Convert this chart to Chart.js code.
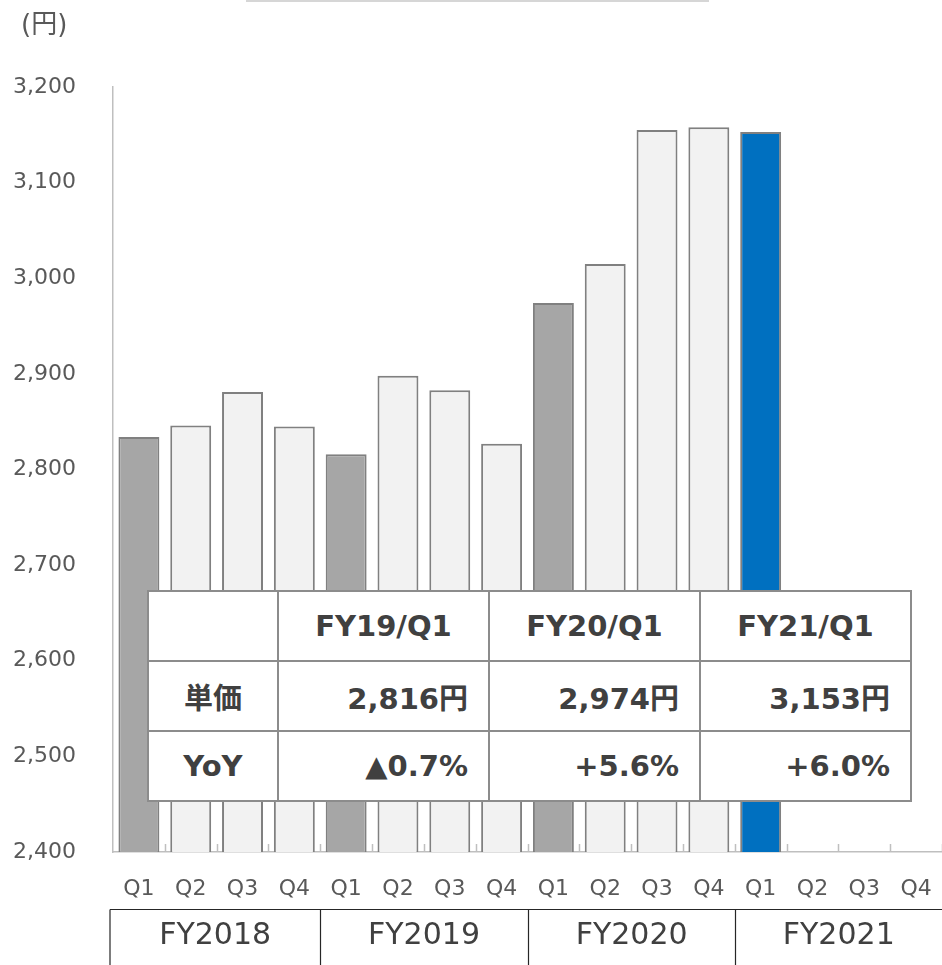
<!DOCTYPE html>
<html>
<head>
<meta charset="utf-8">
<script src="https://cdn.jsdelivr.net/npm/chart.js@4"></script>
<style>
  html, body { margin: 0; padding: 0; background: #fff; overflow: hidden; }
  #wrap { position: relative; width: 942px; height: 965px; font-family: "DejaVu Sans", "Noto Sans CJK JP", sans-serif; }
  #unit { position: absolute; left: 21px; top: 9px; font-size: 26px; line-height: 30px; color: #595959; }
  #topLine { position: absolute; left: 246px; top: 0; width: 463px; height: 2px; background: #d6d6d6; }
  #summary { position: absolute; left: 147px; top: 590px; width: 765px; height: 212px;
    border-collapse: collapse; background: #fff; color: #404040; font-weight: bold; font-size: 29px; }
  #summary td { border: 2px solid #8c8c8c; padding: 0 20px; height: 68px; white-space: nowrap; }
  #summary td.head { text-align: center; }
  #summary td.val { text-align: right; }
</style>
</head>
<body>
<div id="wrap">
  <canvas id="barChart" width="942" height="965"></canvas>
  <div id="topLine"></div>
  <div id="unit">(円)</div>
  <table id="summary"></table>
</div>
<script>
// 四半期ラベル
var quarters = ["Q1", "Q2", "Q3", "Q4", "Q1", "Q2", "Q3", "Q4",
                "Q1", "Q2", "Q3", "Q4", "Q1", "Q2", "Q3", "Q4"];
var fiscalYears = ["FY2018", "FY2019", "FY2020", "FY2021"];
// 単価 (円)
var unitPrice = [2834, 2846, 2881, 2845, 2816, 2898, 2883, 2827,
                 2974, 3015, 3155, 3158, 3153, null, null, null];
var yTicks = [2400, 2500, 2600, 2700, 2800, 2900, 3000, 3100, 3200];

// 表のデータ
var tableHeaders = ["", "FY19/Q1", "FY20/Q1", "FY21/Q1"];
var priceRow = ["単価", "2,816円", "2,974円", "3,153円"];
var yoyRow = ["YoY", "▲0.7%", "+5.6%", "+6.0%"];

var FONT = '"DejaVu Sans", "Noto Sans CJK JP", sans-serif';

// 色: Q1はグレー、最新はブルー
var lastIdx = 12;
var barColors = unitPrice.map(function (v, i) {
  if (i === lastIdx) return "#0070c0";
  return i % 4 === 0 ? "#a6a6a6" : "#f2f2f2";
});

// 表を作る
function buildTable() {
  var rows = [tableHeaders, priceRow, yoyRow];
  var html = "";
  rows.forEach(function (row, r) {
    html += "<tr>";
    row.forEach(function (cell, c) {
      var cls = (r === 0 || c === 0) ? "head" : "val";
      var w = c === 0 ? ' style="width:88px"' : "";
      html += '<td class="' + cls + '"' + w + ">" + cell + "</td>";
    });
    html += "</tr>";
  });
  document.getElementById("summary").innerHTML = html;
}
buildTable();

// X軸の目盛り線と年度の行
var extrasPlugin = {
  id: "extras",
  afterDraw: function (chart) {
    var ctx = chart.ctx;
    var x = chart.scales.x;
    var y = chart.scales.y;
    var half = (x.getPixelForValue(1) - x.getPixelForValue(0)) / 2;
    var base = y.bottom;

    // 目盛り（内向き）
    ctx.save();
    ctx.strokeStyle = "#bfbfbf";
    ctx.lineWidth = 1.5;
    for (var i = 1; i <= quarters.length; i++) {
      var px = Math.round(x.getPixelForValue(i) - half) + 0.5;
      ctx.beginPath();
      ctx.moveTo(px, base);
      ctx.lineTo(px, base - 8);
      ctx.stroke();
    }

    // 年度の行
    var rowTop = 909.5;
    ctx.strokeStyle = "#262626";
    ctx.lineWidth = 1.2;
    ctx.beginPath();
    ctx.moveTo(x.left - 3, rowTop);
    ctx.lineTo(chart.width, rowTop);
    ctx.stroke();
    ctx.fillStyle = "#404040";
    ctx.font = "30px " + FONT;
    ctx.textAlign = "center";
    ctx.textBaseline = "middle";
    fiscalYears.forEach(function (fy, g) {
      var left = g === 0 ? x.left - 3 : Math.round(x.getPixelForValue(g * 4) - half) + 0.5;
      var right = g === fiscalYears.length - 1 ? chart.width : x.getPixelForValue(g * 4 + 4) - half;
      ctx.beginPath();
      ctx.moveTo(left, rowTop);
      ctx.lineTo(left, chart.height);
      ctx.stroke();
      ctx.fillText(fy, (left + right) / 2, 936);
    });
    ctx.restore();
  },
};

var ctx1 = document.getElementById("barChart").getContext("2d");
var myChart = new Chart(ctx1, {
  type: "bar",
  data: {
    labels: quarters,
    datasets: [
      {
        label: "単価",
        data: unitPrice,
        backgroundColor: barColors,
        borderColor: "#808080",
        borderWidth: 2,
        barPercentage: 0.79,
        categoryPercentage: 1,
      },
    ],
  },
  options: {
    responsive: false,
    animation: false,
    layout: { padding: { top: 87, left: 0, right: 0, bottom: 0 } },
    plugins: {
      legend: { display: false },
      tooltip: { enabled: false },
    },
    scales: {
      x: {
        // tickLengthでラベルを下げる (paddingだと右側に余白が出る)
        grid: { display: false, drawTicks: true, tickLength: 24 },
        border: { display: true, color: "#bfbfbf", width: 1.5 },
        ticks: { color: "#595959", padding: 0, font: { family: FONT, size: 22 } },
        afterFit: function (scale) {
          scale.height = 113;
        },
      },
      y: {
        min: yTicks[0],
        max: yTicks[yTicks.length - 1],
        grid: { display: false, drawTicks: false },
        border: { display: true, color: "#bfbfbf", width: 1.5 },
        afterBuildTicks: function (scale) {
          scale.ticks = yTicks.map(function (v) { return { value: v }; });
        },
        ticks: {
          color: "#595959",
          padding: 37,
          font: { family: FONT, size: 22 },
          callback: function (v) { return v.toLocaleString("en-US"); },
        },
        afterFit: function (scale) {
          scale.width = 113;
        },
      },
    },
  },
  plugins: [extrasPlugin],
});
</script>
</body>
</html>
